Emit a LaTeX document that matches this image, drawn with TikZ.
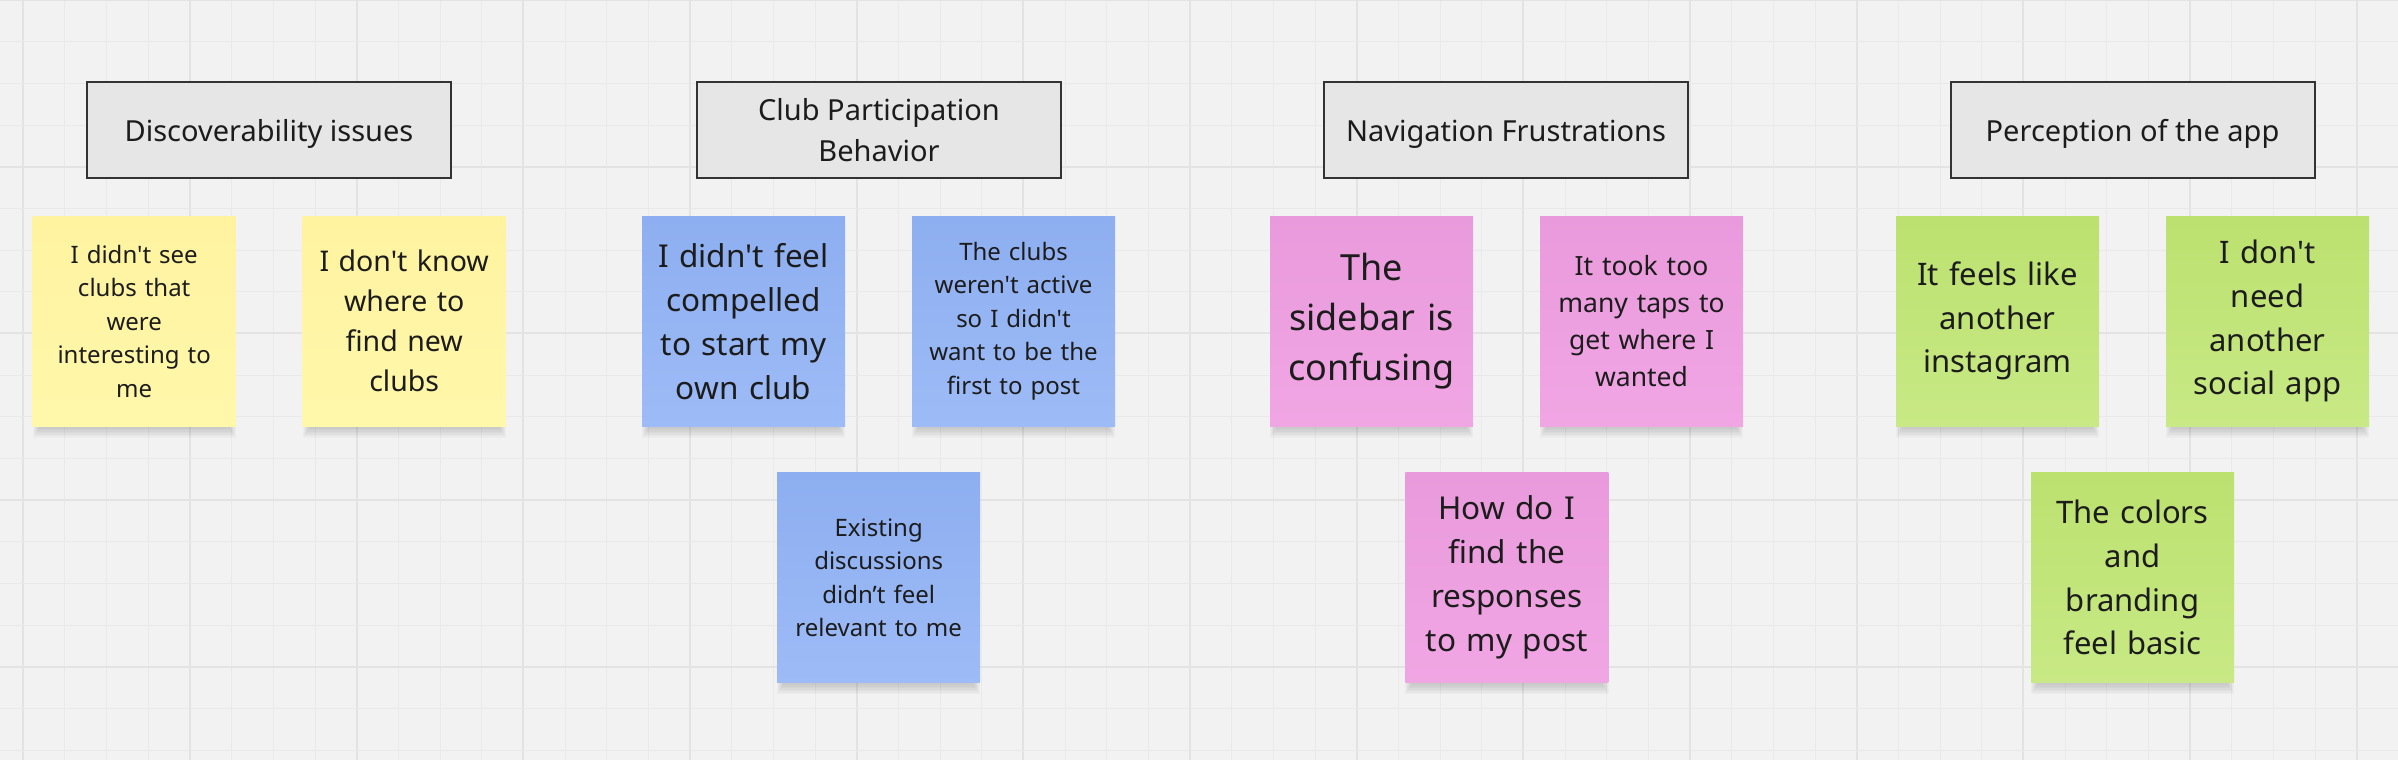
\documentclass[tikz,border=0pt]{standalone}
\usepackage{fontspec}
\setmainfont{Noto Sans}[Ligatures=TeXOff]
\usetikzlibrary{calc}
\pgfdeclarelayer{gridlayer}
\pgfdeclarelayer{shadowlayer}
\pgfsetlayers{gridlayer,shadowlayer,main}
\definecolor{bg}{HTML}{F2F2F2}
\definecolor{gridmin}{HTML}{E9E9E9}
\definecolor{gridmaj}{HTML}{E3E3E3}
\definecolor{hdrfill}{HTML}{E6E6E6}
\definecolor{hdrline}{HTML}{333333}
\definecolor{ink}{HTML}{1C1C1C}
\definecolor{yeltop}{HTML}{FFF3A0}
\definecolor{yelbot}{HTML}{FFF7AA}
\definecolor{blutop}{HTML}{8DAEF0}
\definecolor{blubot}{HTML}{9DBBF6}
\definecolor{pnktop}{HTML}{E99ADC}
\definecolor{pnkbot}{HTML}{F1A6E4}
\definecolor{grntop}{HTML}{BCE16F}
\definecolor{grnbot}{HTML}{C8E985}
\tikzset{
  header/.style={draw=hdrline, line width=2pt, fill=hdrfill, minimum width=364pt,
    minimum height=96pt, inner sep=0pt, align=center, text=ink,
    font=\fontsize{29}{41}\selectfont},
  sticky/.style={minimum width=203pt, minimum height=210pt, inner sep=0pt,
    text width=185pt, align=center, text=ink},
  yel/.style={sticky, top color=yeltop, bottom color=yelbot},
  blu/.style={sticky, top color=blutop, bottom color=blubot},
  pnk/.style={sticky, top color=pnktop, bottom color=pnkbot},
  grn/.style={sticky, top color=grntop, bottom color=grnbot},
  fs/.style 2 args={font=\fontsize{#1}{#2}\selectfont},
  softshade/.style={fill=black, fill opacity=0.022, draw=none},
}
\newcommand\stickyshadow[1]{%
  \foreach \k in {1,...,7}{
    \fill[softshade] ($(#1.north west)+(7-\k,30)$) rectangle ($(#1.south east)+(-7+\k,1+1.5*\k)$);
  }}
\begin{document}
\begin{tikzpicture}[x=1pt,y=-1pt]
\useasboundingbox (0,0) rectangle (2398,760);
\begin{pgfonlayer}{gridlayer}
\fill[bg] (0,0) rectangle (2398,760);
\foreach \i in {0,...,57}{
  \pgfmathtruncatemacro\m{mod(\i,4)}
  \ifnum\m=0
    \draw[gridmaj, line width=2pt] (23.33+41.667*\i,0) -- (23.33+41.667*\i,760);
  \else
    \draw[gridmin, line width=1pt] (23.33+41.667*\i,0) -- (23.33+41.667*\i,760);
  \fi
}
\foreach \j in {0,...,18}{
  \pgfmathtruncatemacro\m{mod(\j,4)}
  \ifnum\m=0
    \draw[gridmaj, line width=2pt] (0,41.667*\j) -- (2398,41.667*\j);
  \else
    \draw[gridmin, line width=1pt] (0,41.667*\j) -- (2398,41.667*\j);
  \fi
}
\end{pgfonlayer}
% headers
\node[header, text height=22pt, text depth=0pt] (h1) at (269,130) {Discoverability issues};
\node[header] (h2) at (879,130) {Club Participation\\Behavior};
\node[header, text height=22pt, text depth=0pt] (h3) at (1506,130) {Navigation Frustrations};
\node[header, text height=22pt, text depth=0pt] (h4) at (2132.5,130) {Perception of the app};
% discoverability
\node[yel, fs={24}{33.5}] (y1) at (134.2,321.2) {I didn't see\\clubs that\\were\\interesting to\\me};
\node[yel, fs={28.5}{40}] (y2) at (404.2,321.2) {I don't know\\where to\\find new\\clubs};
% club participation
\node[blu, fs={31.5}{44}] (b1) at (743.5,321.2) {I didn't feel\\compelled\\to start my\\own club};
\node[blu, fs={24}{33.5}] (b2) at (1013.5,321.2) {The clubs\\weren't active\\so I didn't\\want to be the\\first to post};
\node[blu, fs={24}{33.5}] (b3) at (878.7,577.6) {Existing\\discussions\\didn’t feel\\relevant to me};
% navigation
\node[pnk, fs={36}{50}] (p1) at (1371.5,321.2) {The\\sidebar is\\confusing};
\node[pnk, fs={26.5}{37}] (p2) at (1641.5,321.2) {It took too\\many taps to\\get where I\\wanted};
\node[pnk, fs={31.5}{44}] (p3) at (1506.8,577.6) {How do I\\find the\\responses\\to my post};
% perception
\node[grn, fs={31}{43.6}] (g1) at (1997.5,321.2) {It feels like\\another\\instagram};
\node[grn, fs={31}{43.6}] (g2) at (2267.5,321.2) {I don't\\need\\another\\social app};
\node[grn, fs={31}{43.6}] (g3) at (2132.5,577.6) {The colors\\and\\branding\\feel basic};
% shadows beneath the stickies
\begin{pgfonlayer}{shadowlayer}
\foreach \n in {y1,y2,b1,b2,b3,p1,p2,p3,g1,g2,g3}{\stickyshadow{\n}}
\end{pgfonlayer}
\end{tikzpicture}
\end{document}
